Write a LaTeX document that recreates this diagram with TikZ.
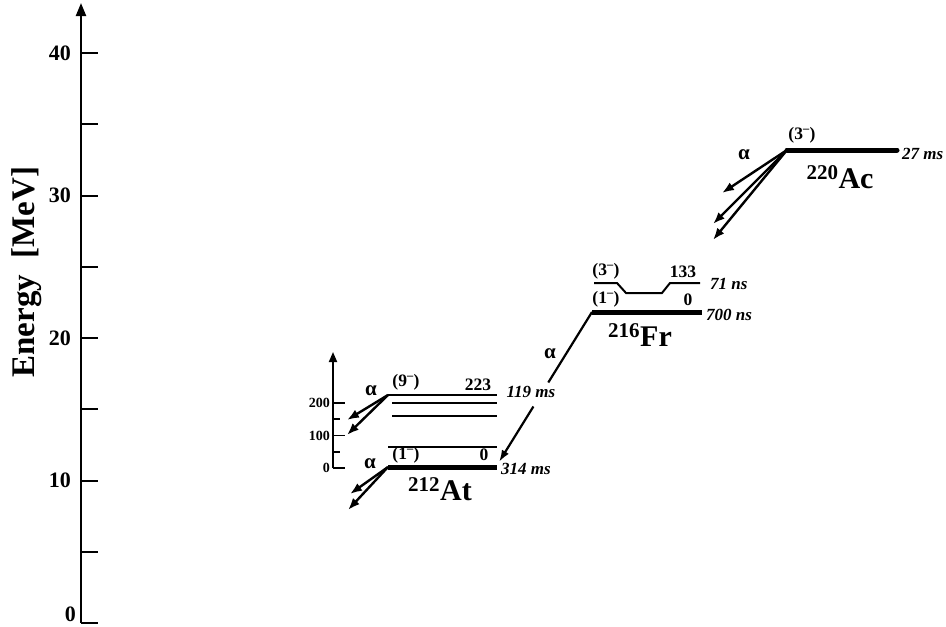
\documentclass[tikz,border=0pt]{standalone}
\usepackage{fontspec}
\setmainfont{Liberation Serif}
\usetikzlibrary{arrows.meta,calc,positioning}

\tikzset{
  lvl/.style={line width=2pt},
  gslvl/.style={line width=5pt,line cap=round},
  alpharrow/.style={line width=2.4pt,-{Latex[length=12pt,width=9pt]}},
  tickmark/.style={line width=2pt},
  ticklabel/.style={font=\fontsize{22}{22}\selectfont\bfseries,anchor=east,inner sep=0pt},
  smalllabel/.style={font=\fontsize{14}{14}\selectfont\bfseries,anchor=east,inner sep=0pt},
  spinlabel/.style={font=\fontsize{17.5}{17.5}\selectfont\bfseries,inner sep=0pt},
  alphalabel/.style={font=\fontsize{21}{21}\selectfont\bfseries,inner sep=0pt},
  halflife/.style={font=\fontsize{17}{17}\selectfont\bfseries\itshape,inner sep=0pt,anchor=west},
  nucl/.style={font=\fontsize{30}{30}\selectfont\bfseries,inner sep=0pt},
}

\begin{document}
\begin{tikzpicture}[x=1pt,y=-1pt]
  \clip (0,0) rectangle (946,627);
  % energy axis
  \draw[line width=2.2pt,-{Triangle[length=13pt,width=10pt]}] (81,623) -- (81,3);
  \foreach \e in {0,5,...,40}
    \draw[tickmark] (81,{623-14.25*\e}) -- ++(17,0);
  \foreach \e in {10,20,30,40}
    \node[ticklabel] at (71,{623-14.25*\e}) {\e};
  \node[ticklabel] at (76,614) {0};
  \node[rotate=90,font=\fontsize{33}{33}\selectfont\bfseries] (elabel) at (27,272) {Energy\ \ [MeV]};

  % keV axis of 212At
  \draw[line width=1.8pt,-{Triangle[length=10pt,width=8pt]}] (333,468) -- (333,352);
  \foreach \k in {0,100,200} {
    \draw[line width=1.6pt] (333,{468-0.325*\k}) -- ++(12,0);
    \node[smalllabel] at (330,{468-0.325*\k}) {\k};
  }
  \foreach \k in {50,150}
    \draw[line width=1.6pt] (333,{468-0.325*\k}) -- ++(7,0);

  % 212At
  \coordinate (atG) at (388,467);
  \coordinate (atGr) at (497,467);
  \coordinate (atI) at (388,395);
  \coordinate (atIr) at (497,395);
  \draw[gslvl,line cap=butt] (atG) -- (atGr);
  \draw[lvl,line width=2.6pt] (atI) -- (atIr);
  \draw[lvl] (392,403) -- (497,403);
  \draw[lvl] (392,416) -- (497,416);
  \draw[lvl] (388,447) -- (497,447);
  \node[spinlabel] (atIspin) at (406,382) {(9\textsuperscript{–})};
  \node[spinlabel] (atIen) at (478,385) {223};
  \node[spinlabel] (atGspin) at (406,455) {(1\textsuperscript{–})};
  \node[spinlabel] (atGen) at (484,455) {0};
  \node[halflife] (atGhl) at (501,469) {314 ms};
  \node[nucl] (atname) at (440,489) {\textsuperscript{212}At};
  \coordinate (atIa) at (347,420);
  \coordinate (atIb) at (347,435);
  \coordinate (atGa) at (350,494);
  \coordinate (atGb) at (348,510);
  \draw[alpharrow] (atI) -- (atIa);
  \draw[alpharrow] (atI) -- (atIb);
  \draw[alpharrow] (atG) -- (atGa);
  \draw[alpharrow] (atG) -- (atGb);
  \node[alphalabel] (atIalpha) at (371,391) {α};
  \node[alphalabel] (atGalpha) at (370,464) {α};

  % 216Fr
  \coordinate (frG) at (592,312);
  \coordinate (frGr) at (702,312);
  \draw[gslvl,line cap=butt] (frG) -- (frGr);
  \draw[lvl] (594,283) -- (617,283) -- (626,293) -- (662,293) -- (670,283) -- (700,283);
  \node[spinlabel] (frIspin) at (606,271) {(3\textsuperscript{–})};
  \node[spinlabel] (frIen) at (683,272) {133};
  \node[halflife] (frIhl) at (710,284) {71 ns};
  \node[spinlabel] (frGspin) at (606,299) {(1\textsuperscript{–})};
  \node[spinlabel] (frGen) at (688,300) {0};
  \node[halflife] (frGhl) at (706,315) {700 ns};
  \node[nucl] (frname) at (640,335) {\textsuperscript{216}Fr};
  \coordinate (atH) at (499,462);
  \draw[lvl,line width=2.2pt] (frG) -- ($(frG)!0.47!(atH)$);
  \draw[lvl,line width=2.2pt,-{Latex[length=12pt,width=8pt]}] ($(frG)!0.63!(atH)$) -- (atH);
  \node[alphalabel] (fralpha) at (550,354) {α};
  \node[halflife,anchor=center] (atIhl) at (531,392) {119 ms};

  % 220Ac
  \coordinate (acI) at (787,150);
  \coordinate (acIr) at (897,150);
  \draw[gslvl] (acI) -- (acIr);
  \node[spinlabel] (acIspin) at (802,135) {(3\textsuperscript{–})};
  \node[halflife] (acIhl) at (902,154) {27 ms};
  \node[nucl] (acname) at (840,177) {\textsuperscript{220}Ac};
  \coordinate (acIa) at (722,193);
  \coordinate (acIb) at (713,224);
  \coordinate (acIc) at (713,240);
  \draw[alpharrow] (acI) -- (acIa);
  \draw[alpharrow] (acI) -- (acIb);
  \draw[alpharrow] (acI) -- (acIc);
  \node[alphalabel] (acalpha) at (744,155) {α};
\end{tikzpicture}
\end{document}
